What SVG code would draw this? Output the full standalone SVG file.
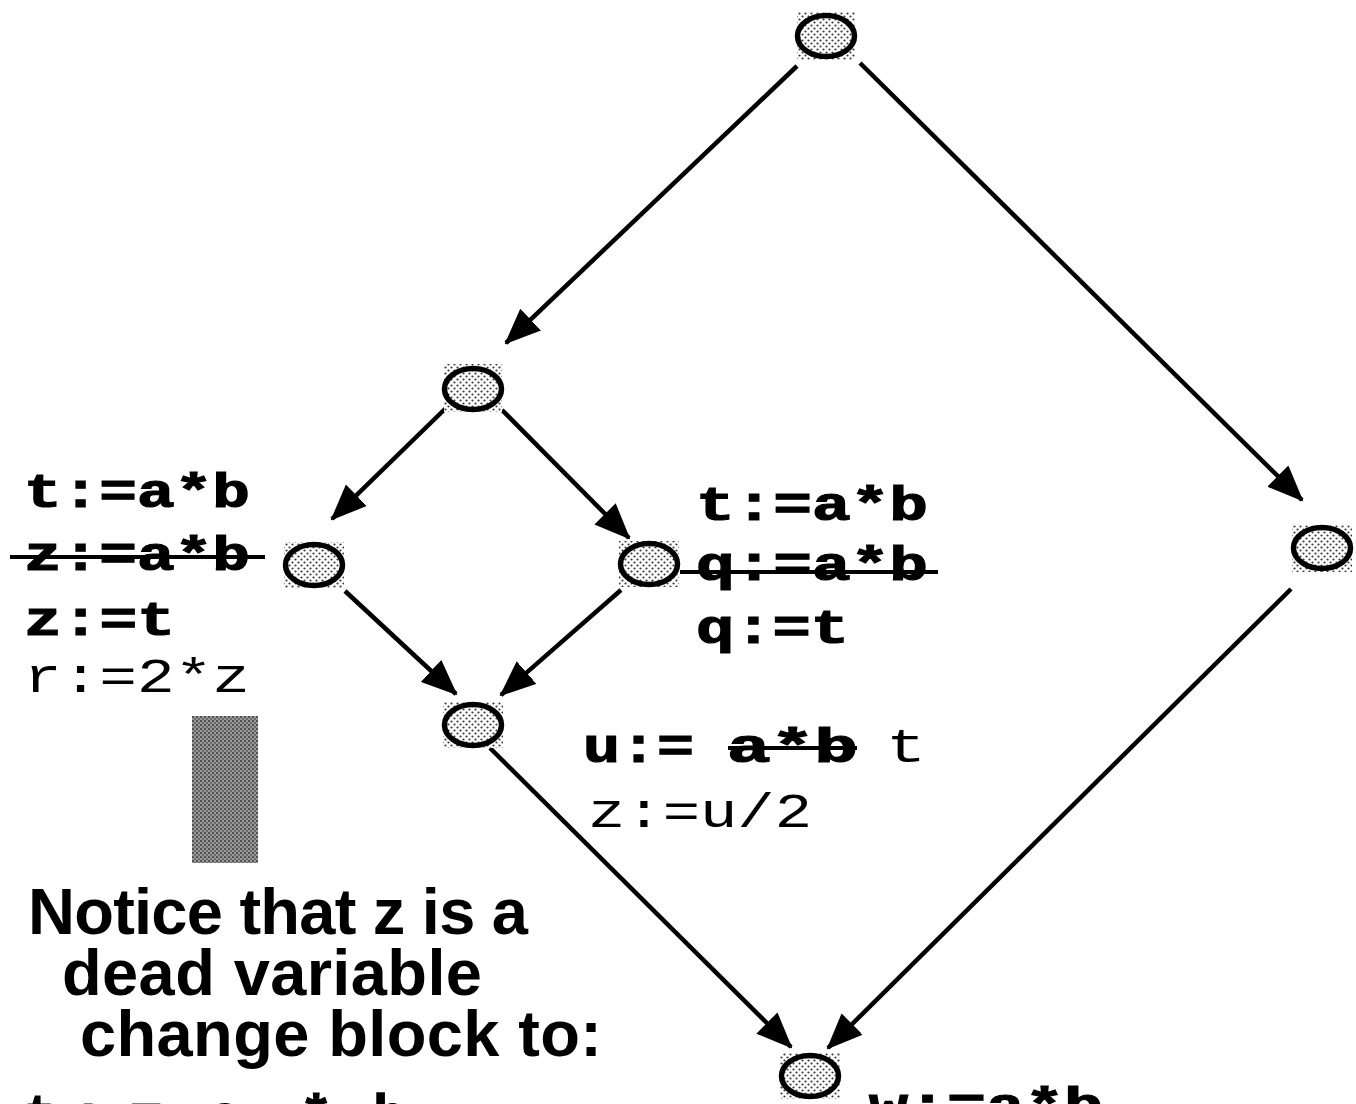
<svg xmlns="http://www.w3.org/2000/svg" width="1356" height="1104" viewBox="0 0 1356 1104">
  <defs>
    <!-- dotted halftone used inside the flow-graph nodes -->
    <pattern id="dots" width="6" height="6" patternUnits="userSpaceOnUse">
      <rect width="6" height="6" fill="#ffffff"/>
      <circle cx="1.5" cy="1.5" r="1.1" fill="#3a3a3a"/>
      <circle cx="4.5" cy="4.5" r="1.1" fill="#3a3a3a"/>
    </pattern>
    <!-- dense checker for the gray transformation bar -->
    <pattern id="checker" width="4" height="4" patternUnits="userSpaceOnUse">
      <rect width="4" height="4" fill="#9a9a9a"/>
      <rect width="2" height="2" fill="#505050"/>
      <rect x="2" y="2" width="2" height="2" fill="#6a6a6a"/>
    </pattern>
    <marker id="arrow" viewBox="0 0 36 30" refX="34" refY="15" markerWidth="36" markerHeight="30" markerUnits="userSpaceOnUse" orient="auto">
      <path d="M0,0 L36,15 L0,30 z" fill="#000"/>
    </marker>
    <style>
      .edge { stroke:#000; stroke-width:4.5; fill:none; marker-end:url(#arrow); }
      .box { fill:url(#dots); }
      .node { fill:url(#dots); stroke:#000; stroke-width:5.5; }
      .code { font-family:"Liberation Mono","Courier New",monospace; font-size:48px; font-weight:bold; fill:#000; stroke:#000; stroke-width:1.2; }
      .plain { font-weight:normal; stroke:none; }
      .note { font-family:"Liberation Sans",Arial,sans-serif; font-size:65px; font-weight:bold; fill:#000; }
      .strike { stroke:#000; stroke-width:4; }
    </style>
  </defs>

  <g id="edges">
    <line class="edge" x1="797" y1="66" x2="506" y2="343"/>
    <line class="edge" x1="860" y1="63" x2="1302" y2="500"/>
    <line class="edge" x1="446" y1="408" x2="332" y2="519"/>
    <line class="edge" x1="502" y1="410" x2="629" y2="538"/>
    <line class="edge" x1="345" y1="591" x2="456" y2="694"/>
    <line class="edge" x1="621" y1="590" x2="501" y2="695"/>
    <line class="edge" x1="490" y1="748" x2="791" y2="1047"/>
    <line class="edge" x1="1291" y1="589" x2="828" y2="1048"/>
  </g>

  <g id="node-entry">
    <rect class="box" x="797" y="12" width="58" height="48"/>
    <ellipse class="node" cx="826" cy="36" rx="28.5" ry="20.5"/>
  </g>
  <g id="node-branch">
    <rect class="box" x="444" y="364" width="58" height="48"/>
    <ellipse class="node" cx="473" cy="389" rx="28.5" ry="20.5"/>
  </g>
  <g id="node-left">
    <rect class="box" x="284" y="542" width="60" height="46"/>
    <ellipse class="node" cx="314" cy="565" rx="28.5" ry="20.5"/>
  </g>
  <g id="node-mid">
    <rect class="box" x="619" y="541" width="60" height="46"/>
    <ellipse class="node" cx="649" cy="564" rx="28.5" ry="20.5"/>
  </g>
  <g id="node-right">
    <rect class="box" x="1292" y="525" width="60" height="47"/>
    <ellipse class="node" cx="1322" cy="548" rx="28.5" ry="20.5"/>
  </g>
  <g id="node-join">
    <rect class="box" x="443" y="702" width="60" height="46"/>
    <ellipse class="node" cx="473" cy="725" rx="28.5" ry="20.5"/>
  </g>
  <g id="node-exit">
    <rect class="box" x="780" y="1053" width="60" height="46"/>
    <ellipse class="node" cx="810" cy="1076" rx="28.5" ry="20.5"/>
  </g>

  <g id="block-left">
    <text class="code" x="24" y="507" textLength="226" lengthAdjust="spacingAndGlyphs">t:=a*b</text>
    <text class="code" x="24" y="570" textLength="226" lengthAdjust="spacingAndGlyphs">z:=a*b</text>
    <line class="strike" x1="10" y1="557" x2="265" y2="557"/>
    <text class="code" x="24" y="635" textLength="151" lengthAdjust="spacingAndGlyphs">z:=t</text>
    <text class="code plain" x="24" y="692" textLength="226" lengthAdjust="spacingAndGlyphs">r:=2*z</text>
  </g>

  <g id="block-mid">
    <text class="code" x="696" y="520" textLength="232" lengthAdjust="spacingAndGlyphs">t:=a*b</text>
    <text class="code" x="696" y="580" textLength="232" lengthAdjust="spacingAndGlyphs">q:=a*b</text>
    <line class="strike" x1="680" y1="572" x2="938" y2="572"/>
    <text class="code" x="696" y="643" textLength="153" lengthAdjust="spacingAndGlyphs">q:=t</text>
  </g>

  <g id="block-join">
    <text class="code" x="583" y="762" textLength="111" lengthAdjust="spacingAndGlyphs">u:=</text>
    <text class="code" x="727" y="762" textLength="131" lengthAdjust="spacingAndGlyphs">a*b</text>
    <line class="strike" x1="728" y1="748" x2="857" y2="748"/>
    <text class="code plain" x="886" y="762" textLength="40" lengthAdjust="spacingAndGlyphs">t</text>
    <text class="code plain" x="588" y="827" textLength="224" lengthAdjust="spacingAndGlyphs">z:=u/2</text>
  </g>

  <rect id="bar" x="192" y="716" width="66" height="147" fill="url(#checker)"/>

  <g id="note">
    <text class="note" x="28" y="934" textLength="500" lengthAdjust="spacing">Notice that z is a</text>
    <text class="note" x="62" y="995" textLength="420" lengthAdjust="spacing">dead variable</text>
    <text class="note" x="80" y="1056" textLength="522" lengthAdjust="spacing">change block to:</text>
    <text class="code" x="24 72 130 209 300 373" y="1132" style="font-size:54px">t:=a*b</text>
  </g>

  <g id="block-exit">
    <text class="code" x="869" y="1121" textLength="234" lengthAdjust="spacingAndGlyphs">w:=a*b</text>
  </g>
</svg>
